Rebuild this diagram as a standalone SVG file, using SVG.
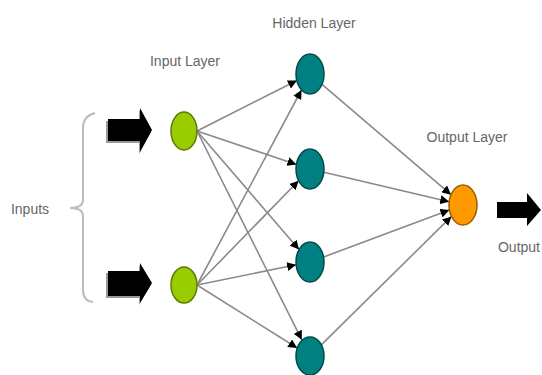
<svg xmlns="http://www.w3.org/2000/svg" width="542" height="375" viewBox="0 0 542 375">
<style>
  .lbl { font-family: "Liberation Sans", Arial, sans-serif; font-size: 14px; fill: #666; text-anchor: middle; }
  .conn line { stroke: #8a8a8a; stroke-width: 1.6; marker-end: url(#ah); }
  .in { fill: #99cc00; stroke: #5e7d00; stroke-width: 1.5; }
  .hid { fill: #008080; stroke: #004a4a; stroke-width: 1.5; }
  .out { fill: #ff9900; stroke: #996000; stroke-width: 1.5; }
  .big { fill: #000; }
  .shadow { fill: #999; }
</style>
<defs>
  <marker id="ah" viewBox="0 0 10 10" refX="10" refY="5" markerWidth="9" markerHeight="9" markerUnits="userSpaceOnUse" orient="auto">
    <path d="M0,0 L10,5 L0,10 Z" fill="#000"/>
  </marker>
</defs>
<rect width="542" height="375" fill="#fff"/>

<g id="brace">
  <path d="M95,113 Q83,116 83,128 L83,200 Q83,208 70,208 Q83,208 83,216 L83,290 Q83,301 93,302" fill="none" stroke="#bdbdbd" stroke-width="2"/>
</g>

<g class="conn" id="connectors">
  <line x1="197" y1="131" x2="297" y2="80.5"/>
  <line x1="197" y1="131" x2="296.4" y2="164.4"/>
  <line x1="197" y1="131" x2="299" y2="249.5"/>
  <line x1="197" y1="131" x2="301.8" y2="339.8"/>
  <line x1="197" y1="285" x2="301.5" y2="90"/>
  <line x1="197" y1="285" x2="298.6" y2="180.7"/>
  <line x1="197" y1="285" x2="296.1" y2="264.8"/>
  <line x1="197" y1="285" x2="297.2" y2="348"/>
  <line x1="322" y1="84.3" x2="451" y2="194.7"/>
  <line x1="323.8" y1="172.3" x2="449.2" y2="201.7"/>
  <line x1="323.6" y1="257" x2="449.4" y2="210"/>
  <line x1="321.5" y1="344.6" x2="451.5" y2="216.4"/>
</g>

<g id="input-arrow-1">
  <polygon class="shadow" points="106,121 139,121 139,110 151,132 139,154 139,143 106,143"/>
  <polygon class="big" points="108,119 140,119 140,108 152,130 140,152 140,141 108,141"/>
</g>
<g id="input-arrow-2">
  <polygon class="shadow" points="106,273 139,273 139,265 151,285 139,305 139,298 106,298"/>
  <polygon class="big" points="108,271 140,271 140,263 152,283 140,303 140,296 108,296"/>
</g>
<g id="output-arrow">
  <polygon class="big" points="497,202 527,202 527,193 541,210 527,226 527,218 497,218"/>
</g>

<g id="input-node-1"><ellipse class="in" cx="184" cy="131" rx="13" ry="19"/></g>
<g id="input-node-2"><ellipse class="in" cx="184" cy="285" rx="13" ry="18"/></g>
<g id="hidden-node-1"><ellipse class="hid" cx="310" cy="74" rx="14" ry="20"/></g>
<g id="hidden-node-2"><ellipse class="hid" cx="310" cy="169" rx="14" ry="20"/></g>
<g id="hidden-node-3"><ellipse class="hid" cx="310" cy="262" rx="14" ry="20"/></g>
<g id="hidden-node-4"><ellipse class="hid" cx="310" cy="356" rx="14" ry="19"/></g>
<g id="output-node"><ellipse class="out" cx="463" cy="205" rx="14" ry="20"/></g>

<g id="labels">
  <text class="lbl" x="185" y="66">Input Layer</text>
  <text class="lbl" x="314" y="28">Hidden Layer</text>
  <text class="lbl" x="467" y="142">Output Layer</text>
  <text class="lbl" x="519" y="252">Output</text>
  <text class="lbl" x="30" y="214">Inputs</text>
</g>
</svg>
